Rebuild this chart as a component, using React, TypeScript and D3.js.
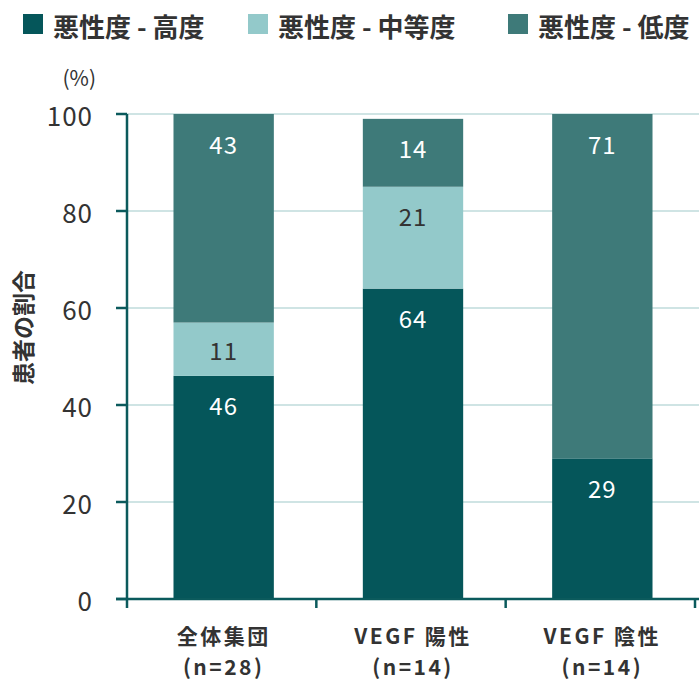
import React, { useRef, useEffect } from "react";
import * as d3 from "d3";

const categories = ["全体集団", "VEGF 陽性", "VEGF 陰性"];
const sampleSizes = ["(n=28)", "(n=14)", "(n=14)"];
const seriesNames = ["悪性度 - 高度", "悪性度 - 中等度", "悪性度 - 低度"];
const highGrade = [46, 64, 29];
const moderateGrade = [11, 21, 0];
const lowGrade = [43, 14, 71];
const yTicks = [0, 20, 40, 60, 80, 100];

const colors = ["#05565a", "#93c9ca", "#3e7a79"];
const labelColors = ["#ffffff", "#333333", "#ffffff"];
const FONT = "'Noto Sans CJK JP', 'Noto Sans', sans-serif";

export const GradeChart = () => {
    const svgRef = useRef<SVGSVGElement>(null);

    useEffect(() => {
        if (!svgRef.current) return;
        const svg = d3.select(svgRef.current);
        svg.selectAll("*").remove();

        const width = 699;
        const height = 682;
        const margin = { top: 114, right: 4, bottom: 83, left: 127 };

        const x = d3
            .scaleBand()
            .domain(categories)
            .range([margin.left, width - margin.right])
            .paddingInner(0.47)
            .paddingOuter(0.235);

        const xTickScale = d3
            .scaleBand()
            .domain(categories)
            .range([margin.left, width - margin.right]);

        const y = d3
            .scaleLinear()
            .domain([0, 100])
            .range([height - margin.bottom, margin.top]);

        // gridlines
        svg.append("g")
            .selectAll("line")
            .data(yTicks.filter((d) => d > 0))
            .join("line")
            .attr("x1", margin.left)
            .attr("x2", width)
            .attr("y1", (d) => y(d))
            .attr("y2", (d) => y(d))
            .attr("stroke", "#cfe4e4")
            .attr("stroke-width", 2);

        // stacked bars
        const rows = categories.map((c, i) => ({
            cat: c,
            high: highGrade[i],
            moderate: moderateGrade[i],
            low: lowGrade[i],
        }));
        const keys = ["high", "moderate", "low"];
        const stacked = d3.stack<any>().keys(keys)(rows);

        stacked.forEach((layer, si) => {
            const g = svg.append("g");
            g.selectAll("rect")
                .data(layer.filter((d) => d[1] - d[0] > 0))
                .join("rect")
                .attr("x", (d) => (x(d.data.cat) || 0) + 2)
                .attr("width", x.bandwidth())
                .attr("y", (d) => y(d[1]))
                .attr("height", (d) => y(d[0]) - y(d[1]))
                .attr("fill", colors[si]);
            g.selectAll("text")
                .data(layer.filter((d) => d[1] - d[0] > 0))
                .join("text")
                .attr("x", (d) => (x(d.data.cat) || 0) + 2 + x.bandwidth() / 2)
                .attr("y", (d) => y(d[1]) + Math.min(29, (y(d[0]) - y(d[1])) / 2))
                .attr("text-anchor", "middle")
                .attr("dominant-baseline", "central")
                .attr("font-family", FONT)
                .attr("font-size", 24)
                .attr("letter-spacing", 1)
                .attr("fill", labelColors[si])
                .text((d) => d[1] - d[0]);
        });

        const axisColor = "#0b5a5c";

        // y axis
        const yAxis = svg.append("g");
        yAxis.append("line")
            .attr("x1", margin.left)
            .attr("x2", margin.left)
            .attr("y1", y(100))
            .attr("y2", y(0) + 9)
            .attr("stroke", axisColor)
            .attr("stroke-width", 2.5);
        yAxis.selectAll(".tick")
            .data(yTicks)
            .join("line")
            .attr("x1", margin.left - 11)
            .attr("x2", margin.left)
            .attr("y1", (d) => y(d))
            .attr("y2", (d) => y(d))
            .attr("stroke", axisColor)
            .attr("stroke-width", 2.5);
        yAxis.selectAll("text")
            .data(yTicks)
            .join("text")
            .attr("x", margin.left - 34)
            .attr("y", (d) => y(d))
            .attr("text-anchor", "end")
            .attr("dominant-baseline", "central")
            .attr("font-family", FONT)
            .attr("font-size", 26)
            .attr("letter-spacing", 1)
            .attr("fill", "#333")
            .text((d) => d);

        svg.append("text")
            .attr("x", margin.left - 31)
            .attr("y", 77)
            .attr("text-anchor", "end")
            .attr("dominant-baseline", "central")
            .attr("font-family", FONT)
            .attr("font-size", 21)
            .attr("fill", "#333")
            .text("(%)");

        svg.append("text")
            .attr("transform", `translate(22,${y(56)}) rotate(-90)`)
            .attr("text-anchor", "middle")
            .attr("dominant-baseline", "central")
            .attr("font-family", FONT)
            .attr("font-weight", "bold")
            .attr("font-size", 23)
            .attr("fill", "#333")
            .text("患者の割合");

        // x axis
        const xAxis = svg.append("g");
        xAxis.append("line")
            .attr("x1", margin.left - 11)
            .attr("x2", width)
            .attr("y1", y(0))
            .attr("y2", y(0))
            .attr("stroke", axisColor)
            .attr("stroke-width", 2.5);
        const bounds = categories.map((c) => xTickScale(c) || 0);
        bounds.push(width - margin.right);
        xAxis.selectAll(".xt")
            .data(bounds.slice(1))
            .join("line")
            .attr("x1", (d) => d)
            .attr("x2", (d) => d)
            .attr("y1", y(0))
            .attr("y2", y(0) + 9)
            .attr("stroke", axisColor)
            .attr("stroke-width", 2.5);
        const xl = xAxis.selectAll(".xl")
            .data(categories)
            .join("text")
            .attr("text-anchor", "middle")
            .attr("font-family", FONT)
            .attr("font-weight", "bold")
            .attr("font-size", 21)
            .attr("letter-spacing", 2.5)
            .attr("fill", "#333");
        xl.append("tspan")
            .attr("x", (d) => (x(d) || 0) + 2 + x.bandwidth() / 2)
            .attr("y", 644)
            .text((d) => d);
        xl.append("tspan")
            .attr("x", (d) => (x(d) || 0) + 2 + x.bandwidth() / 2)
            .attr("y", 675)
            .text((d, i) => sampleSizes[i]);

        // legend
        const legendX = [23, 248, 508];
        const legend = svg.append("g")
            .selectAll("g")
            .data(seriesNames)
            .join("g")
            .attr("transform", (d, i) => `translate(${legendX[i]},0)`);
        legend.append("rect")
            .attr("x", 0)
            .attr("y", 14)
            .attr("width", 20)
            .attr("height", 20)
            .attr("fill", (d, i) => colors[i]);
        legend.append("text")
            .attr("x", 30)
            .attr("y", 25)
            .attr("dominant-baseline", "central")
            .attr("font-family", FONT)
            .attr("font-weight", "bold")
            .attr("font-size", 26)
            .attr("fill", "#333")
            .text((d) => d);

        svg.attr("width", width).attr("height", height);
    }, []);

    return (
        <svg
            ref={svgRef}
            style={{ position: "absolute", left: 0, top: 0, display: "block" }}
        />
    );
};

export default function App() {
    return <GradeChart />;
}
